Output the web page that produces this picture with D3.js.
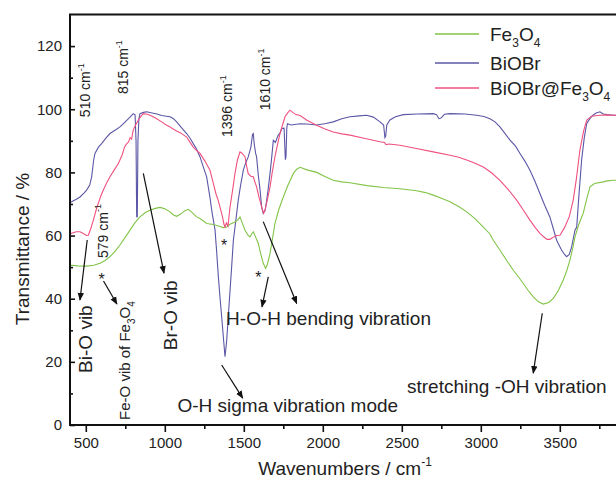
<!DOCTYPE html>
<html>
<head>
<meta charset="utf-8">
<script src="https://cdn.jsdelivr.net/npm/d3@7"></script>
<style>
  body { margin: 0; background: #fff; }
  text { font-family: "Liberation Sans", Arial, sans-serif; fill: #222; }
</style>
</head>
<body>
<div id="chart"></div>
<script>
// spectra: [wavenumber, transmittance]
var fe3o4 = [[400,50.5],[410,50.6],[450,50.4],[505,50.3],[550,50.6],[590,51.2],[620,52],[653,53.3],[685,55],[716,57],[750,59.5],[780,61.7],[810,64],[843,65.9],[875,67.2],[906,68],[940,68.6],[970,68.9],[1000,68.5],[1033,67.5],[1055,66.5],[1075,66.1],[1100,66.8],[1125,67.8],[1149,68.3],[1175,67.2],[1202,65.9],[1223,65.4],[1265,63.8],[1307,63.5],[1340,63],[1370,62.5],[1392,62.7],[1410,63.5],[1444,64.3],[1460,64.8],[1476,65.9],[1490,64],[1508,61.7],[1525,60.2],[1539,59.6],[1550,60.5],[1560,61.2],[1575,59.5],[1592,57.5],[1608,54],[1623,51.2],[1638,49.6],[1650,51],[1666,54.3],[1680,58.5],[1697,63.8],[1720,68],[1750,72.2],[1780,76],[1813,79.6],[1835,81],[1856,81.6],[1900,80.8],[1961,80],[2010,78.8],[2066,77.5],[2120,77],[2172,76.7],[2280,75.8],[2383,75.2],[2488,74.8],[2594,74.2],[2650,73.6],[2699,72.8],[2750,71.8],[2805,70.7],[2860,69.2],[2911,67.5],[2965,65.3],[3016,62.7],[3058,60.5],[3079,58.5],[3121,55.4],[3165,52],[3206,49],[3240,46.8],[3269,44.8],[3300,42.6],[3332,40.6],[3365,39],[3396,38.3],[3430,38.8],[3459,40.1],[3490,42.5],[3522,45.9],[3545,49],[3564,52.2],[3580,55.5],[3596,59.6],[3620,63.5],[3648,67],[3670,71.5],[3691,75.4],[3720,76.5],[3775,77],[3800,77.3],[3837,77.5],[3870,77.5]];

var biobr = [[400,70.5],[410,70.7],[440,71.5],[463,72.2],[490,73.5],[505,74.4],[525,76],[537,78.6],[550,84],[558,86],[580,88],[600,89.1],[630,91],[653,92.3],[690,93.5],[716,94.4],[740,95.5],[759,96.5],[780,97.5],[800,98.6],[812,98.2],[818,90],[822,66],[826,66],[830,90],[836,97],[843,98.6],[865,99],[885,99.2],[920,98.8],[949,98.5],[980,98],[1010,97.8],[1033,97.6],[1055,97],[1075,96],[1100,94.5],[1138,92.3],[1160,90.8],[1180,89.1],[1200,87.5],[1223,84.9],[1245,81.5],[1265,78.6],[1286,72],[1300,67],[1318,61.7],[1328,55],[1339,47],[1350,40],[1360,34.3],[1372,27],[1381,21.6],[1386,24],[1392,26.9],[1400,33],[1413,42.7],[1423,50],[1434,58.5],[1450,65],[1465,71.2],[1480,76],[1497,80.7],[1512,83],[1528,84.9],[1545,88],[1555,92],[1560,92.3],[1566,89],[1575,86],[1581,84.9],[1592,79],[1603,74.4],[1613,69],[1623,67],[1635,68],[1645,71.2],[1655,75],[1666,79.6],[1677,85],[1687,90.2],[1700,89.5],[1718,91.8],[1730,92.5],[1740,93.9],[1755,94],[1763,84],[1767,85],[1772,94],[1776,95.4],[1800,95],[1856,95.4],[1900,95.3],[1961,95],[2020,95.5],[2066,96],[2120,97],[2172,97.6],[2230,97.9],[2277,98.1],[2320,97.5],[2362,96],[2385,95],[2393,91],[2398,91.5],[2405,95],[2425,96.6],[2460,97.6],[2509,98.3],[2600,98.5],[2699,98.6],[2720,98.3],[2735,97],[2748,97.2],[2770,98.4],[2805,98.6],[2900,98.5],[2974,98.1],[3020,97.7],[3058,97],[3090,96],[3121,94.4],[3150,92.5],[3185,90.2],[3220,88.3],[3248,86],[3280,83.5],[3311,80.7],[3340,77.5],[3374,73.3],[3405,69.5],[3437,65.9],[3460,62],[3480,58.5],[3510,55.5],[3530,54],[3543,53.3],[3560,54],[3575,56.4],[3596,61.7],[3607,62.7],[3620,72],[3638,83.9],[3655,91],[3670,95.4],[3690,97],[3710,98.1],[3730,98.8],[3754,99.2],[3775,98.5],[3800,98.3],[3837,98.1],[3870,98]];

var composite = [[400,60.5],[410,60.7],[440,61.2],[463,61.2],[490,60.5],[505,60],[516,60.1],[530,62],[548,64.9],[565,68],[579,70.2],[595,72.5],[611,74.4],[630,76.5],[653,78.6],[680,80.8],[706,82.8],[730,85.5],[745,88],[759,89.1],[770,89.6],[780,91],[790,90.5],[800,93.4],[815,95],[832,96.5],[850,97.8],[864,98.6],[890,98.4],[920,97.8],[949,97],[980,96],[1010,95],[1033,94.4],[1060,93.5],[1100,92.5],[1138,91.2],[1160,89.5],[1180,88],[1200,87],[1223,86],[1255,83.5],[1286,80.7],[1307,76.5],[1325,73],[1339,71],[1349,69.1],[1365,66],[1375,63.5],[1381,62.7],[1390,64],[1400,63],[1413,69.1],[1428,74],[1444,79.6],[1460,84],[1476,86.5],[1490,86],[1508,84.9],[1518,82],[1528,79.6],[1545,78.8],[1560,78.6],[1570,77],[1581,75.4],[1597,72],[1613,69.1],[1625,67],[1634,68],[1650,71.5],[1666,75.4],[1680,80],[1697,84.9],[1712,88.5],[1729,92.3],[1745,95],[1761,97.6],[1780,99],[1792,99.7],[1810,99],[1830,98.3],[1856,98],[1900,96.5],[1961,94.9],[2010,93.8],[2066,92.8],[2120,92.2],[2172,91.8],[2260,90.8],[2362,89.7],[2390,89.5],[2400,88.8],[2420,89],[2488,88.6],[2600,87.5],[2699,86.5],[2805,85.4],[2860,84.8],[2911,83.9],[2960,83],[3016,81.7],[3070,79.8],[3121,77.5],[3170,74.8],[3227,71.2],[3270,68],[3311,64.9],[3345,62.5],[3374,60.7],[3405,59.3],[3420,58.8],[3437,58.8],[3460,59.5],[3480,60],[3501,60.1],[3530,62.5],[3560,66],[3585,71.2],[3605,78],[3627,87],[3650,93],[3670,96.5],[3700,97.8],[3754,98.1],[3800,98.2],[3837,98.1],[3870,98]];

var seriesNames = ["Fe3O4", "BiOBr", "BiOBr@Fe3O4"];
var xMajor = [500, 1000, 1500, 2000, 2500, 3000, 3500];
var xMinor = [750, 1250, 1750, 2250, 2750, 3250, 3750];
var yMajor = [0, 20, 40, 60, 80, 100, 120];
var yMinor = [10, 30, 50, 70, 90, 110];

var width = 616, height = 479;
var colors = {"Fe3O4": "#82c447", "BiOBr": "#5b57a6", "BiOBr@Fe3O4": "#f0507f"};

var svg = d3.select("#chart").append("svg")
  .attr("width", width).attr("height", height);

var x = d3.scaleLinear().domain([400, 4000]).range([70, 638.8]);
var y = d3.scaleLinear().domain([0, 130]).range([425, 14.5]);

svg.append("defs").append("clipPath").attr("id", "plot")
  .append("rect").attr("x", 70).attr("y", 14).attr("width", width - 70).attr("height", 411);

var marker = svg.select("defs").append("marker")
  .attr("id", "head").attr("viewBox", "0 0 10 10")
  .attr("refX", 9).attr("refY", 5)
  .attr("markerWidth", 8).attr("markerHeight", 8)
  .attr("markerUnits", "userSpaceOnUse")
  .attr("orient", "auto");
marker.append("path").attr("d", "M0,1 L10,5 L0,9 Z").attr("fill", "#111");

// rich text: parts are [string, "sub" | "sup" | ""]
function rich(sel, parts, size) {
  var small = Math.round(size * 0.65);
  var shift = 0;
  parts.forEach(function(p) {
    var t = sel.append("tspan").text(p[0]);
    var target = p[1] == "sub" ? 0.3 * size : (p[1] == "sup" ? -0.45 * size : 0);
    t.attr("dy", target - shift).attr("font-size", p[1] ? small : size);
    shift = target;
  });
  return sel;
}

// spectra
var line = d3.line().x(function(d){ return x(d[0]); }).y(function(d){ return y(d[1]); });
var plot = svg.append("g").attr("clip-path", "url(#plot)");
[["BiOBr", biobr], ["Fe3O4", fe3o4], ["BiOBr@Fe3O4", composite]].forEach(function(s) {
  plot.append("path").datum(s[1])
    .attr("d", line)
    .attr("fill", "none")
    .attr("stroke", colors[s[0]])
    .attr("stroke-width", 1.1);
});

// axes
var gx = svg.append("g").attr("transform", "translate(0,425)")
  .call(d3.axisBottom(x).tickValues(xMajor).tickFormat(d3.format("d"))
    .tickSize(7).tickPadding(5.5).tickSizeOuter(0));
svg.append("g").attr("transform", "translate(0,425)")
  .call(d3.axisBottom(x).tickValues(xMinor).tickSize(4).tickFormat("").tickSizeOuter(0))
  .select(".domain").remove();
var gy = svg.append("g").attr("transform", "translate(70,0)")
  .call(d3.axisLeft(y).tickValues(yMajor).tickSize(-5).tickPadding(8).tickSizeOuter(0));
svg.append("g").attr("transform", "translate(70,0)")
  .call(d3.axisLeft(y).tickValues(yMinor).tickSize(-3).tickFormat("").tickSizeOuter(0))
  .select(".domain").remove();
svg.selectAll(".domain").attr("stroke", "#111").attr("stroke-width", 2);
svg.selectAll(".tick line").attr("stroke", "#111").attr("stroke-width", 1.6);
svg.selectAll(".tick text").attr("font-size", 15).attr("fill", "#222")
  .attr("font-family", "Liberation Sans, Arial, sans-serif");
gy.select(".domain").attr("d", "M0," + y(130) + "V425");
gx.select(".domain").attr("d", "M69,0H" + width);

svg.append("line")
  .attr("x1", 69).attr("x2", width).attr("y1", y(130)).attr("y2", y(130))
  .attr("stroke", "#111").attr("stroke-width", 2);

// axis titles
rich(svg.append("text").attr("x", 345).attr("y", 475).attr("text-anchor", "middle"),
  [["Wavenumbers / cm", ""], ["-1", "sup"]], 19);
svg.append("text")
  .attr("transform", "translate(29,249) rotate(-90)")
  .attr("text-anchor", "middle").attr("font-size", 19)
  .text("Transmittance / %");

// legend
var legend = svg.append("g");
seriesNames.forEach(function(name, i) {
  var ly = [34, 63, 88][i];
  legend.append("line").attr("x1", 435).attr("x2", 479).attr("y1", ly).attr("y2", ly)
    .attr("stroke", colors[name]).attr("stroke-width", 1.3);
  var parts = name == "Fe3O4" ? [["Fe", ""], ["3", "sub"], ["O", ""], ["4", "sub"]]
    : name == "BiOBr" ? [["BiOBr", ""]]
    : [["BiOBr@Fe", ""], ["3", "sub"], ["O", ""], ["4", "sub"]];
  rich(legend.append("text").attr("x", 490).attr("y", ly + 7), parts, 19);
});

// vertical peak labels, anchored at their bottom end in data units
var vLabels = [
  {wn: 495, t: 97.5, size: 14, parts: [["510 cm", ""], ["-1", "sup"]]},
  {wn: 735, t: 104.8, size: 14, parts: [["815 cm", ""], ["-1", "sup"]]},
  {wn: 1394, t: 91.2, size: 14, parts: [["1396 cm", ""], ["-1", "sup"]]},
  {wn: 1634, t: 99.7, size: 14, parts: [["1610 cm", ""], ["-1", "sup"]]},
  {wn: 606, t: 52.9, size: 14, parts: [["579 cm", ""], ["-1", "sup"]]},
  {wn: 495, t: 16.5, size: 19, parts: [["Bi-O vib", ""]]},
  {wn: 748, t: 1.6, size: 15, parts: [["Fe-O vib of Fe", ""], ["3", "sub"], ["O", ""], ["4", "sub"]]},
  {wn: 1033, t: 23.7, size: 19, parts: [["Br-O vib", ""]]}
];
vLabels.forEach(function(d) {
  var g = svg.append("g").attr("transform", "translate(" + x(d.wn) + "," + y(d.t) + ") rotate(-90)");
  rich(g.append("text").attr("y", d.size * 0.36), d.parts, d.size);
});

// horizontal labels
var hLabels = [
  {wn: 1388, t: 31.6, text: "H-O-H bending vibration"},
  {wn: 1080, t: 4.1, text: "O-H sigma vibration mode"},
  {wn: 2533, t: 10.1, text: "stretching -OH vibration"}
];
hLabels.forEach(function(d) {
  svg.append("text").attr("x", x(d.wn)).attr("y", y(d.t)).attr("font-size", 19).text(d.text);
});

// asterisks
var stars = [[1375, 58], [1592, 48], [600, 47.5]];
stars.forEach(function(s) {
  svg.append("text").attr("x", x(s[0])).attr("y", y(s[1]))
    .attr("dy", "0.6em").attr("text-anchor", "middle").attr("font-size", 16).text("*");
});

// arrows [from wn, from T, to wn, to T]
var arrows = [
  [509, 58.6, 463, 39.6],
  [612, 45.6, 697, 38.3],
  [864, 79.7, 995, 48.1],
  [1655, 46.9, 1615, 37.4],
  [1623, 64.4, 1835, 38.5],
  [1360, 19, 1493, 8.5],
  [3389, 35.4, 3332, 16.4]
];
arrows.forEach(function(a) {
  svg.append("line")
    .attr("x1", x(a[0])).attr("y1", y(a[1])).attr("x2", x(a[2])).attr("y2", y(a[3]))
    .attr("stroke", "#111").attr("stroke-width", 1.2)
    .attr("marker-end", "url(#head)");
});
</script>
</body>
</html>
